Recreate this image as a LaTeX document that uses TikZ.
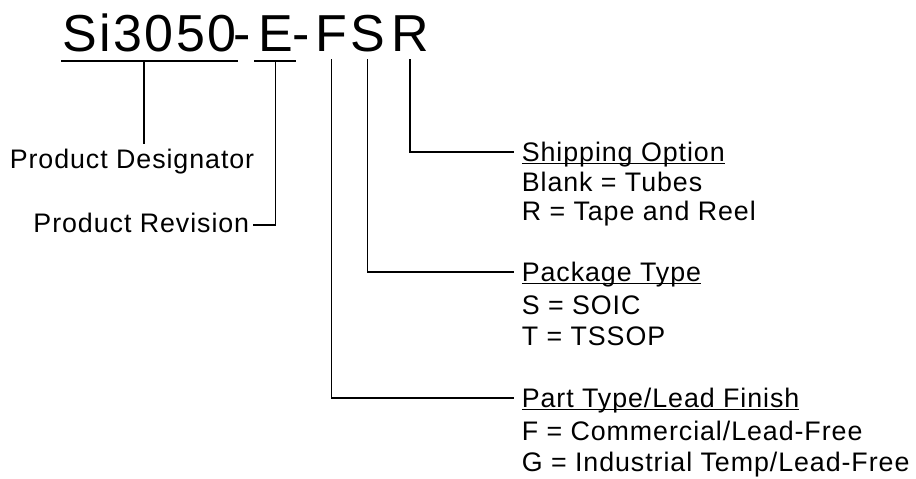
\documentclass[tikz,border=0pt]{standalone}
\usepackage{fontspec}
\setmainfont{Liberation Sans}
\newfontfamily\pnfont[LetterSpace=5]{Liberation Sans}
\newfontfamily\lblfont[LetterSpace=3.5]{Liberation Sans}
\newcommand\hdtext[1]{\underline{\raisebox{0pt}[\height][0pt]{#1}}}

\begin{document}
\begin{tikzpicture}[x=0.5pt,y=-0.5pt,line width=0.8pt]
\tikzstyle{pn}=[inner sep=0pt,anchor=base,font=\pnfont\fontsize{26}{30}\selectfont]
\tikzstyle{lbl}=[inner xsep=3.5pt,inner ysep=2pt,font=\lblfont\fontsize{13.4}{15}\selectfont]
\tikzstyle{hd}=[lbl,anchor=base west]
\useasboundingbox (0,0) rectangle (916,478);
\node[pn] (dsg) at (149.5,51) {Si3050};
\node[pn] (dash1) at (242.5,51) {-};
\node[pn] (rev) at (275.5,51) {E};
\node[pn] (dash2) at (301,51) {-};
\node[pn] (fin) at (331.5,51) {F};
\node[pn] (pkg) at (367.5,51) {S};
\node[pn] (shp) at (410,51) {R};
\node[lbl,anchor=base] (dsglbl) at (132,168) {Product Designator};
\node[lbl,anchor=base east,inner xsep=1.5pt] (revlbl) at (253,232) {Product Revision};
\node[hd] (shphd) at (514,161) {\hdtext{Shipping Option}};
\node[hd] (shp1) at (514,191) {Blank = Tubes};
\node[hd] (shp2) at (514,220) {R = Tape and Reel};
\node[hd] (pkghd) at (514,281) {\hdtext{Package Type}};
\node[hd] (pkg1) at (514,314) {S = SOIC};
\node[hd] (pkg2) at (514,345) {T = TSSOP};
\node[hd] (finhd) at (514,407) {\hdtext{Part Type/Lead Finish}};
\node[hd] (fin1) at (514,440) {F = Commercial/Lead-Free};
\node[hd] (fin2) at (514,471) {G = Industrial Temp/Lead-Free};
\coordinate (dsgtap) at (144,61);
\draw ([yshift=-5pt]dsg.base west) -- ([yshift=-5pt]dsg.base east);
\draw ([xshift=-1.5pt,yshift=-5pt]rev.base west) -- ([xshift=1pt,yshift=-5pt]rev.base east);
\draw (dsgtap) -- (dsgtap |- dsglbl.north);
\draw ([yshift=-5pt]rev.base) |- ([yshift=3.5pt]revlbl.base east);
\draw ([yshift=-4pt]shp.base) |- ([yshift=4.5pt]shphd.base west);
\draw ([yshift=-4pt]pkg.base) |- ([yshift=4.5pt]pkghd.base west);
\draw ([yshift=-4pt]fin.base) |- ([yshift=4.5pt]finhd.base west);
\end{tikzpicture}
\end{document}
